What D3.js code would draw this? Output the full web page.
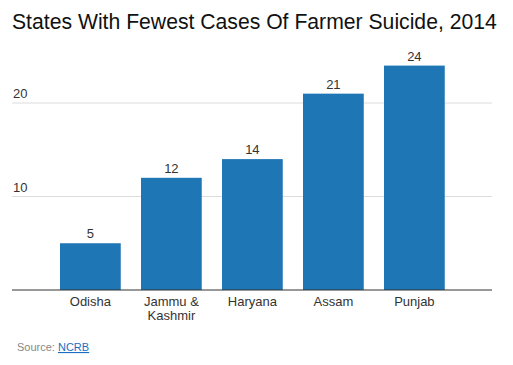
<!DOCTYPE html>
<html><head><meta charset="utf-8">
<script src="https://cdn.jsdelivr.net/npm/d3@7"></script>
<style>body{margin:0;background:#fff;} svg{display:block;font-family:"Liberation Sans",Arial,Helvetica,sans-serif;}</style>
</head><body>
<script>
const states = ["Odisha", "Jammu & Kashmir", "Haryana", "Assam", "Punjab"];
const cases = [5, 12, 14, 21, 24];
const yTicks = [10, 20];
const title = "States With Fewest Cases Of Farmer Suicide, 2014";

const W = 513, H = 365;
const svg = d3.select("body").append("svg").attr("width", W).attr("height", H);

const x = d3.scaleBand().domain(states).range([39.75, 465]).paddingInner(0.25).paddingOuter(0.25);
const y = d3.scaleLinear().domain([0, 10]).range([290, 196.5]);

const tt = svg.append("text").attr("x", 12).attr("y", 29).attr("font-size", 22).attr("fill", "#111").text(title);
const tw = tt.node().getComputedTextLength();
tt.attr("font-size", 22 * 485 / tw);

// gridlines
const g = svg.append("g");
g.selectAll("line.grid").data(yTicks).join("line").attr("class","grid")
  .attr("x1", 12).attr("x2", 492).attr("y1", d => y(d)).attr("y2", d => y(d))
  .attr("stroke", "#dcdcdc").attr("stroke-width", 1);
g.selectAll("text.yt").data(yTicks).join("text").attr("class","yt")
  .attr("x", 13).attr("y", d => y(d) - 5).attr("font-size", 13).attr("fill", "#333").text(d => d);

// bars
svg.selectAll("rect.bar").data(states).join("rect").attr("class","bar")
  .attr("x", d => x(d)).attr("width", x.bandwidth())
  .attr("y", (d,i) => y(cases[i])).attr("height", (d,i) => y(0) - y(cases[i]))
  .attr("fill", "#1f76b4");

svg.selectAll("text.val").data(states).join("text").attr("class","val")
  .attr("x", d => x(d) + x.bandwidth()/2).attr("y", (d,i) => y(cases[i]) - 5)
  .attr("text-anchor", "middle").attr("font-size", 13).attr("fill", "#333")
  .text((d,i) => cases[i]);

// baseline
svg.append("line").attr("x1", 12).attr("x2", 492).attr("y1", y(0)).attr("y2", y(0))
  .attr("stroke", "#333").attr("stroke-width", 1);

// x labels (wrap)
const xl = svg.selectAll("text.xl").data(states).join("text").attr("class","xl")
  .attr("x", d => x(d) + x.bandwidth()/2).attr("y", 306)
  .attr("text-anchor", "middle").attr("font-size", 13).attr("fill", "#333");
xl.each(function(d){
  const lines = d === "Jammu & Kashmir" ? ["Jammu &", "Kashmir"] : [d];
  const t = d3.select(this);
  lines.forEach((l,i) => t.append("tspan").attr("x", x(d) + x.bandwidth()/2).attr("dy", i ? 13.5 : 0).text(l));
});

// source
const src = svg.append("text").attr("x", 17).attr("y", 351).attr("font-size", 11).attr("fill", "#888");
src.append("tspan").text("Source: ");
src.append("tspan").attr("fill", "#1a6fc4").attr("text-decoration", "underline").text("NCRB");
</script>
</body></html>
